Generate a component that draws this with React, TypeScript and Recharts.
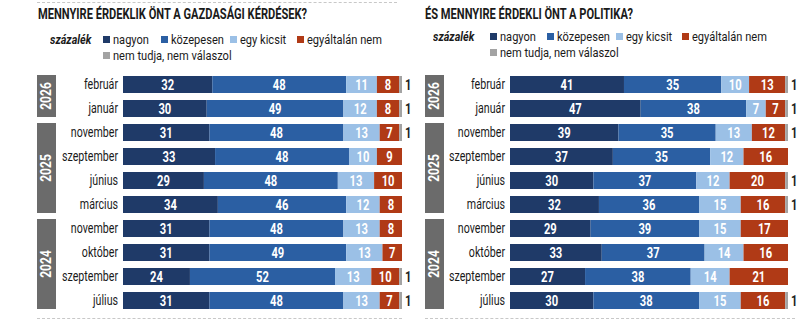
import React from "react";
import { BarChart, Bar, XAxis, YAxis, LabelList } from "recharts";

const months = [
  "február",
  "január",
  "november",
  "szeptember",
  "június",
  "március",
  "november",
  "október",
  "szeptember",
  "július",
];

const years = [
  { label: "2026", rows: 2 },
  { label: "2025", rows: 4 },
  { label: "2024", rows: 4 },
];

// gazdasági kérdések
const econNagyon = [32, 30, 31, 33, 29, 34, 31, 31, 24, 31];
const econKozepesen = [48, 49, 48, 48, 48, 46, 48, 49, 52, 48];
const econKicsit = [11, 12, 13, 10, 13, 12, 13, 13, 13, 13];
const econNem = [8, 8, 7, 9, 10, 8, 8, 7, 10, 7];
const econNt = [1, 1, 1, 0, 0, 0, 0, 0, 1, 1];

// politika
const polNagyon = [41, 47, 39, 37, 30, 32, 29, 33, 27, 30];
const polKozepesen = [35, 38, 35, 35, 37, 36, 39, 37, 38, 38];
const polKicsit = [10, 7, 13, 12, 12, 15, 15, 14, 14, 15];
const polNem = [13, 7, 12, 16, 20, 16, 17, 16, 21, 16];
const polNt = [1, 1, 1, 0, 1, 1, 0, 0, 0, 1];

const COLORS = {
  nagyon: "#1f3a68",
  kozepesen: "#2b5fa3",
  kicsit: "#9bc0e6",
  nem: "#b03a16",
  nt: "#a3a3a3",
};

const FONT = "Roboto, 'Noto Sans', sans-serif";

const ROW_TOP = 72;
const ROW_H = 24;

function build(a: number[], b: number[], c: number[], d: number[], e: number[]) {
  return months.map((m, i) => ({
    key: i + "-" + m,
    nagyon: a[i],
    kozepesen: b[i],
    kicsit: c[i],
    nem: d[i],
    nt: e[i],
  }));
}

const econData = build(econNagyon, econKozepesen, econKicsit, econNem, econNt);
const polData = build(polNagyon, polKozepesen, polKicsit, polNem, polNt);

// the original uses a condensed face, so text gets squeezed with scaleX
function MonthTick(props: any) {
  const { x, y, payload } = props;
  const label = String(payload.value).split("-").slice(1).join("-");
  return (
    <text
      transform={`translate(${x},${y + 5}) scale(0.71,1)`}
      textAnchor="end"
      fill="#1a1a1a"
      fontSize={15}
      fontFamily={FONT}
    >
      {label}
    </text>
  );
}

function inLabel(props: any) {
  const { x, y, width, height, value } = props;
  if (!value) return null;
  return (
    <text
      transform={`translate(${x + width / 2},${y + height / 2 + 5}) scale(0.8,1)`}
      textAnchor="middle"
      fill="#fff"
      fontSize={14}
      fontWeight={700}
      fontFamily={FONT}
    >
      {value}
    </text>
  );
}

function outLabel(props: any) {
  const { x, y, width, height, value } = props;
  if (!value) return null;
  return (
    <text
      transform={`translate(${x + width + 3},${y + height / 2 + 5}) scale(0.8,1)`}
      textAnchor="start"
      fill="#222"
      fontSize={14}
      fontWeight={700}
      fontFamily={FONT}
    >
      {value}
    </text>
  );
}

function Panel({ data, width, axisWidth, plotWidth }: any) {
  const keys = ["nagyon", "kozepesen", "kicsit", "nem"] as const;
  return (
    <BarChart
      layout="vertical"
      width={width}
      height={ROW_H * months.length}
      data={data}
      margin={{ top: 0, right: width - axisWidth - plotWidth, bottom: 0, left: 0 }}
      barSize={17}
    >
      <XAxis type="number" domain={[0, 100]} hide />
      <YAxis
        type="category"
        dataKey="key"
        width={axisWidth}
        axisLine={false}
        tickLine={false}
        tickSize={0}
        tick={<MonthTick />}
        tickMargin={5}
      />
      {keys.map((k) => (
        <Bar key={k} dataKey={k} stackId="s" fill={COLORS[k]} isAnimationActive={false}>
          <LabelList dataKey={k} content={inLabel} />
        </Bar>
      ))}
      <Bar dataKey="nt" stackId="s" fill={COLORS.nt} isAnimationActive={false}>
        <LabelList dataKey="nt" content={outLabel} />
      </Bar>
    </BarChart>
  );
}

function YearBoxes({ left }: { left: number }) {
  let row = 0;
  return (
    <>
      {years.map((yr) => {
        const top = ROW_TOP + row * ROW_H + 3;
        const h = yr.rows * ROW_H - 6;
        row += yr.rows;
        return (
          <div
            key={yr.label}
            style={{
              position: "absolute",
              left,
              top,
              width: 19,
              height: h,
              background: "#6b6b6b",
              display: "flex",
              alignItems: "center",
              justifyContent: "center",
            }}
          >
            <span
              style={{
                transform: "rotate(-90deg) scaleX(0.8)",
                color: "#fff",
                fontWeight: 700,
                fontSize: 15,
                fontFamily: FONT,
                whiteSpace: "nowrap",
              }}
            >
              {yr.label}
            </span>
          </div>
        );
      })}
    </>
  );
}

function Narrow({
  left,
  top,
  children,
  bold,
  italic,
  size = 15,
  sq = 0.74,
}: {
  left: number;
  top: number;
  children: React.ReactNode;
  bold?: boolean;
  italic?: boolean;
  size?: number;
  sq?: number;
}) {
  return (
    <div
      style={{
        position: "absolute",
        left,
        top,
        lineHeight: "14px",
        fontFamily: FONT,
        fontSize: size,
        fontWeight: bold ? 700 : 400,
        fontStyle: italic ? "italic" : "normal",
        color: "#1a1a1a",
        whiteSpace: "nowrap",
        transform: `scaleX(${sq})`,
        transformOrigin: "left center",
      }}
    >
      {children}
    </div>
  );
}

const legendNames = ["nagyon", "közepesen", "egy kicsit", "egyáltalán nem", "nem tudja, nem válaszol"];
const legendColors = [COLORS.nagyon, COLORS.kozepesen, COLORS.kicsit, COLORS.nem, COLORS.nt];

function Legend({ label, sq, row1, row2 }: { label: number; sq: number[]; row1: number; row2: number }) {
  return (
    <>
      <Narrow left={label} top={row1 - 7} size={13.5} sq={0.8} bold italic>
        százalék
      </Narrow>
      {legendNames.map((name, i) => {
        const cy = i < 4 ? row1 : row2;
        return (
          <React.Fragment key={name}>
            <div
              style={{
                position: "absolute",
                left: sq[i],
                top: cy - 3,
                width: 7,
                height: 7,
                background: legendColors[i],
              }}
            />
            <Narrow left={sq[i] + 10} top={cy - 7} size={13.5} sq={0.82}>
              {name}
            </Narrow>
          </React.Fragment>
        );
      })}
    </>
  );
}

function Dotted({ left, top, width }: { left: number; top: number; width: number }) {
  return (
    <div style={{ position: "absolute", left, top, width, borderTop: "1px dashed #c8c8c8" }} />
  );
}

export default function App() {
  return (
    <div
      style={{
        position: "absolute",
        left: 0,
        top: 0,
        width: 810,
        height: 322,
        background: "#fff",
        overflow: "hidden",
      }}
    >
      <Dotted left={37} top={2} width={360} />
      <Narrow left={38} top={7} bold>
        MENNYIRE ÉRDEKLIK ÖNT A GAZDASÁGI KÉRDÉSEK?
      </Narrow>
      <Narrow left={425} top={7} bold>
        ÉS MENNYIRE ÉRDEKLI ÖNT A POLITIKA?
      </Narrow>
      <Legend label={50} sq={[103, 161, 230, 297, 103]} row1={39} row2={55} />
      <Legend label={433} sq={[490, 547, 616, 682, 490]} row1={36} row2={52} />
      <YearBoxes left={37} />
      <YearBoxes left={425} />
      <div style={{ position: "absolute", left: 0, top: ROW_TOP }}>
        <Panel data={econData} width={412} axisWidth={123} plotWidth={279} />
      </div>
      <div style={{ position: "absolute", left: 410, top: ROW_TOP }}>
        <Panel data={polData} width={400} axisWidth={100} plotWidth={278} />
      </div>
      <Dotted left={37} top={318} width={365} />
      <Dotted left={425} top={318} width={370} />
    </div>
  );
}
